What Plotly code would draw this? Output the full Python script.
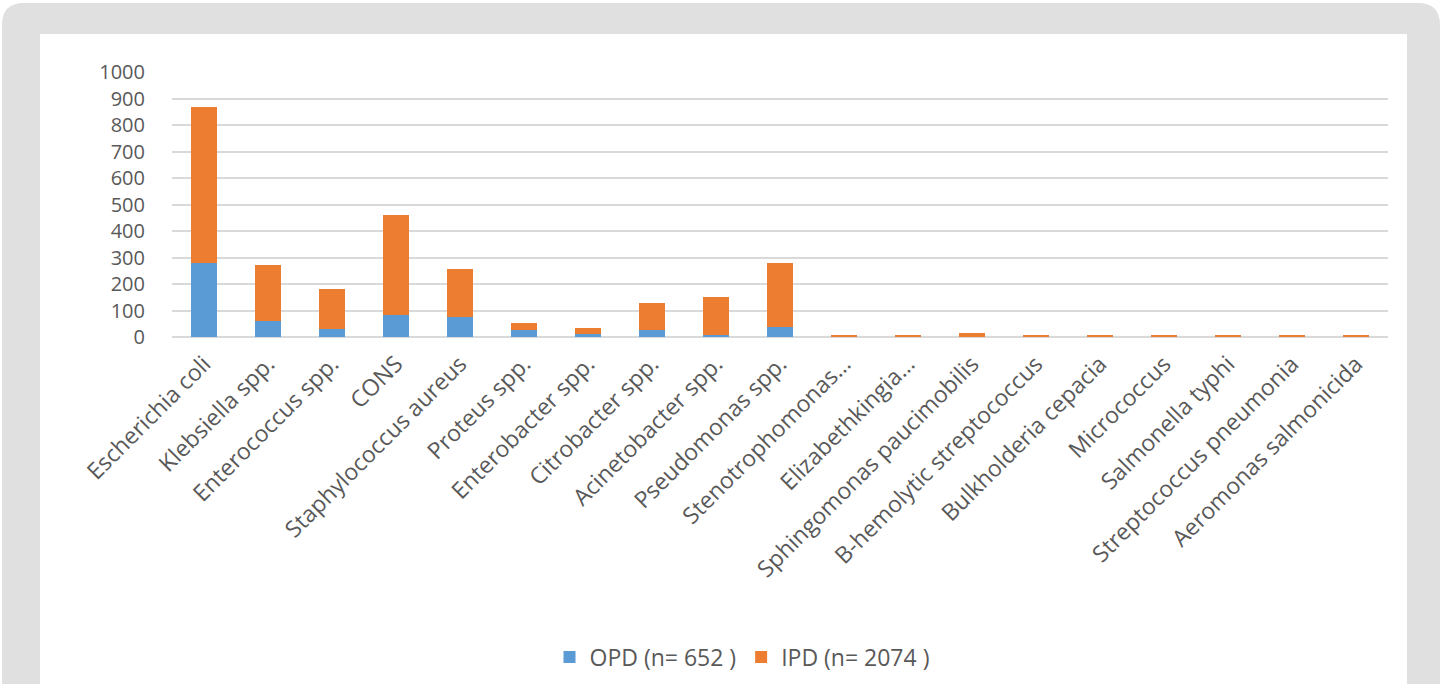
import plotly.graph_objects as go

# Isolates per organism, split by department
organisms = [
    "Escherichia coli", "Klebsiella spp.", "Enterococcus spp.", "CONS",
    "Staphylococcus aureus", "Proteus spp.", "Enterobacter spp.",
    "Citrobacter spp.", "Acinetobacter spp.", "Pseudomonas spp.",
    "Stenotrophomonas…", "Elizabethkingia…", "Sphingomonas paucimobilis",
    "B-hemolytic streptococcus", "Bulkholderia cepacia", "Micrococcus",
    "Salmonella typhi", "Streptococcus pneumonia", "Aeromonas salmonicida",
]
opd = [280, 62, 31, 83, 77, 25, 10, 25, 8, 39, 0, 0, 0, 0, 0, 0, 0, 0, 0]
ipd = [588, 210, 151, 377, 180, 29, 23, 104, 144, 241, 9, 9, 14, 9, 9, 9, 9, 9, 9]
series_names = ["OPD (n= 652 )", "IPD (n= 2074 )"]
y_ticks = [0, 100, 200, 300, 400, 500, 600, 700, 800, 900, 1000]

W, H = 1442, 684
L, R, T, B = 172, 54, 72, 347
PW, PH = W - L - R, H - T - B

def px(x):
    return (x - L) / PW

def py(y):
    return (H - B - y) / PH

def rounded_rect(x0, y0, x1, y1, r):
    rx, ry = r / PW, r / PH
    a0, a1 = px(x0), px(x1)
    b0, b1 = py(y0), py(y1)  # b0 is top (larger), b1 is bottom
    return (f"M {a0 + rx},{b0} L {a1 - rx},{b0} Q {a1},{b0} {a1},{b0 - ry} "
            f"L {a1},{b1 + ry} Q {a1},{b1} {a1 - rx},{b1} "
            f"L {a0 + rx},{b1} Q {a0},{b1} {a0},{b1 + ry} "
            f"L {a0},{b0 - ry} Q {a0},{b0} {a0 + rx},{b0} Z")

font_family = "Open Sans, Noto Sans, sans-serif"
text_color = "#595959"

fig = go.Figure()
fig.add_trace(go.Bar(x=organisms, y=opd, name=series_names[0],
                     marker=dict(color="#5b9bd5", line=dict(width=0))))
fig.add_trace(go.Bar(x=organisms, y=ipd, name=series_names[1],
                     marker=dict(color="#ed7d31", line=dict(width=0))))

fig.update_layout(
    width=W, height=H,
    margin=dict(l=L, r=R, t=T, b=B, autoexpand=False),
    barmode="stack", bargap=0.6,
    paper_bgcolor="white", plot_bgcolor="rgba(0,0,0,0)",
    font=dict(family=font_family, size=22, color=text_color),
    showlegend=True,
    legend=dict(orientation="h", traceorder="normal", x=px(742), y=py(657),
                xanchor="center", yanchor="middle",
                font=dict(size=23, color=text_color),
                bgcolor="rgba(0,0,0,0)", itemwidth=30,
                itemsizing="constant"),
    shapes=[
        dict(type="path", xref="paper", yref="paper", layer="below",
             path=rounded_rect(2, 3, 1440, 720, 22),
             fillcolor="#e0e0e0", line=dict(width=0)),
        dict(type="rect", xref="paper", yref="paper", layer="below",
             x0=px(40), x1=px(1407), y0=py(34), y1=py(700),
             fillcolor="white", line=dict(width=0)),
    ],
)
fig.update_xaxes(tickangle=-45, showgrid=False, showline=False, ticks="",
                 ticklabelstandoff=8,
                 tickfont=dict(size=23, color=text_color))
fig.update_yaxes(range=[0, 1000], tickvals=y_ticks, showgrid=True,
                 gridcolor="#d9d9d9", gridwidth=1.5, zeroline=True,
                 zerolinecolor="#d9d9d9", zerolinewidth=1.5, showline=False,
                 ticks="", ticklabelstandoff=26,
                 tickfont=dict(size=20, color=text_color))

fig.write_html("out.html")
